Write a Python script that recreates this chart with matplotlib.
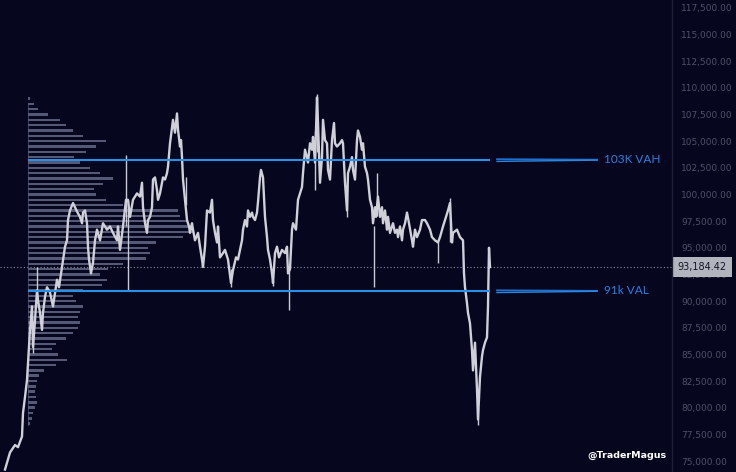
import numpy as np
import matplotlib.pyplot as plt

# price path (bar index, price in thousands)
bars = [5, 10, 15, 18, 22, 23, 25, 27, 28, 30, 32, 33, 35, 37, 38, 40, 42, 43, 45, 47,
        50, 53, 57, 59, 62, 63, 65, 67, 68, 70, 73, 77, 80, 82, 83, 85, 87, 88, 89, 91,
        93, 95, 97, 100, 103, 107, 110, 113, 117, 118, 120, 123, 126, 128, 130, 133, 137, 140, 142, 143,
        145, 147, 148, 150, 152, 153, 155, 157, 158, 160, 163, 165, 167, 168, 170, 172, 173, 175, 177, 178,
        180, 181, 182, 183, 185, 187, 189, 190, 192, 193, 195, 198, 200, 202, 203, 205, 207, 210, 212, 213,
        215, 217, 218, 220, 223, 225, 228, 231, 233, 236, 238, 240, 242, 243, 245, 247, 248, 250, 252, 253,
        255, 257, 258, 260, 261, 263, 264, 265, 267, 268, 270, 272, 273, 275, 277, 279, 282, 285, 287, 288,
        290, 292, 293, 296, 298, 300, 302, 303, 305, 307, 308, 310, 312, 313, 315, 317, 318, 320, 322, 323,
        325, 327, 328, 330, 332, 334, 335, 337, 340, 342, 343, 345, 347, 348, 350, 352, 353, 355, 357, 358,
        360, 362, 363, 365, 367, 368, 370, 372, 373, 375, 376, 378, 380, 382, 383, 385, 387, 388, 390, 393,
        395, 397, 398, 400, 402, 403, 405, 407, 409, 412, 413, 415, 417, 420, 422, 425, 427, 430, 432, 435,
        438, 440, 443, 446, 448, 450, 452, 453, 457, 460, 463, 464, 465, 467, 468, 470, 472, 473, 475, 477,
        478, 480, 482, 483, 485, 487, 488, 489, 490]
price = [74.2, 75.8, 76.5, 76.3, 77.3, 79.5, 81.0, 82.6, 84.2, 87.3, 89.5, 85.7, 88.2, 91.0, 90.1, 88.9, 87.3, 88.9, 90.4, 91.3,
         90.8, 89.5, 92.0, 91.3, 93.2, 93.9, 95.1, 95.7, 97.6, 98.5, 99.2, 98.4, 97.9, 97.3, 98.3, 98.5, 97.3, 95.1, 93.9, 92.6,
         93.6, 95.7, 96.7, 95.7, 97.3, 96.7, 97.0, 96.4, 95.7, 97.0, 94.8, 97.0, 99.5, 99.5, 97.9, 99.5, 100.1, 99.8, 101.1, 98.8,
         97.3, 96.4, 97.6, 97.9, 98.8, 101.4, 101.6, 100.4, 99.5, 100.1, 101.6, 101.4, 102.0, 102.6, 104.8, 106.3, 107.0, 105.8, 107.6, 106.1,
         104.5, 105.1, 103.5, 101.4, 99.5, 97.6, 97.0, 96.4, 97.3, 96.7, 95.7, 96.4, 95.1, 93.9, 93.2, 95.1, 98.5, 98.3, 99.5, 97.6,
         96.4, 95.5, 97.0, 94.1, 94.5, 94.8, 93.9, 91.7, 92.9, 94.1, 93.9, 94.8, 95.7, 96.7, 97.6, 97.0, 98.5, 97.9, 98.3, 97.9,
         97.6, 98.3, 99.3, 101.6, 102.3, 101.6, 99.8, 97.9, 96.0, 94.8, 93.9, 92.6, 91.7, 94.5, 95.1, 94.1, 94.8, 94.5, 95.1, 92.6,
         93.0, 96.7, 97.3, 96.7, 99.5, 100.1, 100.7, 102.0, 104.2, 103.5, 103.0, 104.8, 104.2, 105.4, 103.0, 109.1, 106.7, 101.1, 103.5, 107.0,
         105.1, 104.8, 102.3, 101.4, 105.1, 106.7, 104.8, 104.5, 104.8, 105.1, 104.8, 101.1, 98.5, 102.0, 102.6, 103.5, 102.3, 101.4, 105.1, 106.0,
         105.4, 104.2, 104.8, 102.6, 102.0, 101.4, 99.5, 98.8, 97.3, 98.8, 97.9, 99.8, 97.9, 98.8, 97.3, 98.5, 96.7, 97.9, 96.4, 97.3,
         96.4, 96.7, 96.0, 97.0, 95.7, 96.7, 97.3, 98.3, 97.3, 95.7, 95.1, 96.7, 96.0, 96.7, 97.6, 97.6, 97.3, 96.7, 96.0, 95.7,
         95.5, 96.0, 97.0, 97.9, 98.5, 99.2, 95.5, 96.4, 96.7, 96.0, 95.7, 92.6, 91.3, 89.8, 88.9, 87.9, 85.4, 83.5, 86.1, 81.7,
         78.9, 82.9, 84.8, 85.4, 86.1, 86.6, 89.5, 95.0, 93.2]

# long wicks (bar, low, high)
wick_bar = [33, 37, 126, 128, 186, 231, 273, 289, 315, 317, 347, 374, 377, 438, 450, 478]
wick_low = [85.1, 90.0, 97.0, 91.0, 99.0, 91.3, 91.4, 89.2, 100.4, 104.0, 97.9, 91.3, 98.0, 93.6, 95.5, 78.4]
wick_high = [87.0, 93.2, 103.7, 99.5, 101.6, 93.0, 92.0, 93.0, 106.0, 109.4, 101.0, 97.0, 102.0, 95.5, 99.7, 80.0]

# volume profile (price level in thousands, relative volume)
vp_level = [78.5, 79.0, 79.5, 80.0, 80.5, 81.0, 81.5, 82.0, 82.5, 83.0, 83.5, 84.0, 84.5, 85.0, 85.5, 86.0,
            86.5, 87.0, 87.5, 88.0, 88.5, 89.0, 89.5, 90.0, 90.5, 91.0, 91.5, 92.0, 92.5, 93.0, 93.5, 94.0,
            94.5, 95.0, 95.5, 96.0, 96.5, 97.0, 97.5, 98.0, 98.5, 99.0, 99.5, 100.0, 100.5, 101.0, 101.5, 102.0,
            102.5, 103.0, 103.5, 104.0, 104.5, 105.0, 105.5, 106.0, 106.5, 107.0, 107.5, 108.0, 108.5, 109.0]
vp_volume = [2, 4, 5, 7, 9, 8, 7, 8, 9, 11, 16, 28, 39, 30, 24, 28,
             38, 45, 50, 52, 50, 52, 55, 48, 45, 55, 74, 79, 72, 80, 95, 118,
             122, 120, 128, 155, 165, 165, 160, 152, 150, 95, 78, 68, 66, 75, 85, 72,
             62, 52, 46, 58, 68, 78, 55, 45, 38, 32, 20, 10, 6, 2]

vah = 103.25
val = 90.95
last_price = 93184.42
price_ticks = np.arange(75000, 117501, 2500)

bg = "#06071f"
blue = "#2a8fe6"

fig = plt.figure(figsize=(7.36, 4.72), dpi=100, facecolor=bg)
ax = fig.add_axes([0, 0, 672 / 736, 1])
ax.set_facecolor(bg)
ax.set_xlim(0, 672)
ax.set_ylim(73970, 118240)

# volume profile
vp_start = 28
vp_width = 165
vol = np.array(vp_volume, dtype=float)
ax.barh(np.array(vp_level) * 1000, vol / vol.max() * vp_width, height=230,
        left=vp_start, color="#6a6e8c", alpha=0.8, zorder=1)
ax.axvline(vp_start, ymin=0.1, ymax=0.78, color="#5d6180", lw=0.8, alpha=0.6, zorder=1)

# price
ax.vlines(wick_bar, np.array(wick_low) * 1000, np.array(wick_high) * 1000,
          color="#c9cad2", lw=1.0, zorder=3)
ax.plot(bars, np.array(price) * 1000, color="#cfd0d8", lw=1.7, zorder=3)

# value area lines
ax.hlines([vah * 1000, val * 1000], vp_start, 490, color=blue, lw=1.5, zorder=4)
for lvl, txt in [(vah, "103K VAH"), (val, "91k VAL")]:
    ax.plot([497, 597], [lvl * 1000 + 60, lvl * 1000 + 10], color="#1f6fd0", lw=1.3, zorder=4)
    ax.plot([497, 597], [lvl * 1000 - 150, lvl * 1000 - 30], color="#2a86e0", lw=1.0, zorder=4)
    ax.text(604, lvl * 1000, txt, color="#2a7fe0", fontsize=8.5, va="center",
            family="Lato", zorder=5)

# last price
ax.axhline(last_price, color="#8a8d9c", lw=0.8, ls=(0, (1, 2)), zorder=2)

# right price scale
ax.set_xticks([])
ax.yaxis.tick_right()
ax.set_yticks(price_ticks)
ax.set_yticklabels([f"{p:,.2f}" for p in price_ticks])
ax.tick_params(axis="y", length=0, pad=6.5, labelsize=6.5, labelcolor="#4e5168")
for s in ax.spines.values():
    s.set_visible(False)
fig.add_artist(plt.Line2D([672 / 736, 672 / 736], [0, 1], color="#1d1f36", lw=1))

ax.text(1.0085, last_price, f"{last_price:,.2f}", transform=ax.get_yaxis_transform(),
        fontsize=7, color="#131722", va="center", ha="left", zorder=6, clip_on=False,
        bbox=dict(boxstyle="square,pad=0.5", fc="#b2b5be", ec="none"))

fig.text(0.798, 0.035, "@TraderMagus", color="white", fontsize=6.8,
         fontweight="bold", ha="left", va="center")

fig.savefig("out.png", dpi=100, facecolor=bg)
